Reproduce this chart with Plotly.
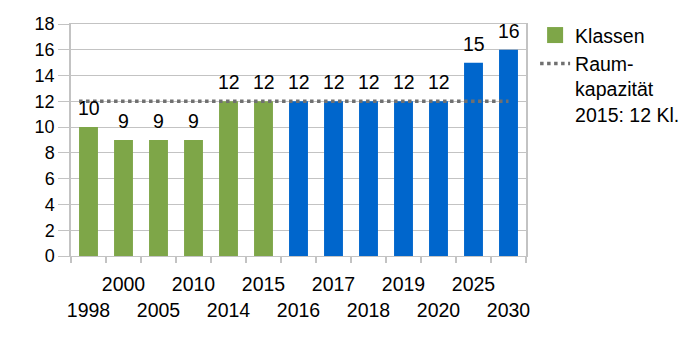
import plotly.graph_objects as go

years = ["1998", "2000", "2005", "2010", "2014", "2015", "2016",
         "2017", "2018", "2019", "2020", "2025", "2030"]
klassen = [10, 9, 9, 9, 12, 12, 12, 12, 12, 12, 12, 15, 16]
is_actual = [True, True, True, True, True, True, False,
             False, False, False, False, False, False]
capacity = 12
y_ticks = [0, 2, 4, 6, 8, 10, 12, 14, 16, 18]

GREEN = "#7EA648"
BLUE = "#0066CC"
GRID = "#C3C3C3"
FONT = "Liberation Sans, Arial, sans-serif"

xs = list(range(len(years)))
colors = [GREEN if a else BLUE for a in is_actual]
ticktext = [y if i % 2 == 1 else "<br>" + y for i, y in enumerate(years)]

fig = go.Figure()
fig.add_trace(go.Bar(
    x=xs, y=klassen, marker=dict(color=colors, line=dict(width=0)),
    width=0.54, showlegend=False, hoverinfo="skip"))
# legend-only entry for bars
fig.add_trace(go.Scatter(
    x=[None], y=[None], mode="markers", name="Klassen",
    marker=dict(symbol="square", size=17, color=GREEN)))
fig.add_trace(go.Scatter(
    x=[xs[0] - 0.27, xs[-1]], y=[capacity, capacity], mode="lines",
    name="Raum-<br>kapazität<br>2015: 12 Kl.",
    line=dict(color="#707070", width=3.5, dash="dot")))

for x, v in zip(xs, klassen):
    fig.add_annotation(x=x, y=v, text=str(v), showarrow=False,
                       yanchor="bottom", yshift=6,
                       font=dict(size=19.5, color="black", family=FONT))

fig.update_layout(
    width=693, height=342,
    margin=dict(l=71, r=167, t=24, b=86, autoexpand=False),
    plot_bgcolor="white", paper_bgcolor="white",
    font=dict(family=FONT, color="black"),
    bargap=0.46,
    legend=dict(x=1.02, xanchor="left", y=1.035, yanchor="top",
                font=dict(size=19.5, family=FONT), valign="top",
                itemwidth=30, tracegroupgap=0),
)
fig.update_xaxes(
    range=[-0.5, len(years) - 0.5], tickvals=xs, ticktext=ticktext,
    tickangle=0,
    ticks="", showgrid=False, zeroline=False,
    showline=True, linecolor=GRID, linewidth=1, mirror=True,
    tickfont=dict(size=19.5, family=FONT),
    minor=dict(tickvals=[i - 0.5 for i in range(len(years) + 1)],
               ticks="outside", ticklen=6, tickcolor=GRID, tickwidth=1.5,
               showgrid=False),
    ticklabelstandoff=11,
)
fig.update_yaxes(
    range=[0, 18], tickvals=y_ticks, showgrid=True, gridcolor=GRID,
    gridwidth=1, zeroline=False, showline=True, linecolor=GRID,
    linewidth=1.5, mirror=True, ticks="outside", ticklen=11,
    tickcolor=GRID, tickfont=dict(size=18, family=FONT),
)

fig.write_html("out.html")
